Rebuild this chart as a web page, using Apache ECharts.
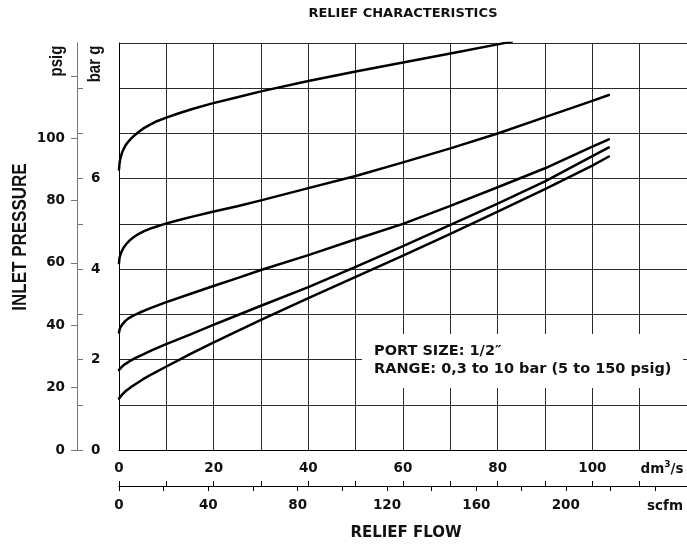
<!DOCTYPE html>
<html>
<head>
<meta charset="utf-8">
<script src="https://cdn.jsdelivr.net/npm/echarts@6/dist/echarts.min.js"></script>
<style>
html,body{margin:0;padding:0;background:#ffffff;}
#chart{width:687px;height:545px;}
</style>
</head>
<body>
<div id="chart"></div>
<script>
// ---- unit conversions ----
const PSI_PER_BAR = 14.5038;
const SCFM_PER_DM3S = 2.1189;

// ---- axis ticks / labels ----
const FLOW_TICKS = [0, 10, 20, 30, 40, 50, 60, 70, 80, 90, 100, 110];
const FLOW_LABELS = [0, 20, 40, 60, 80, 100];
const SCFM_TICKS = [0, 20, 40, 60, 80, 100, 120, 140, 160, 180, 200, 220, 240];
const SCFM_LABELS = [0, 40, 80, 120, 160, 200];
const PSIG_TICKS = [0, 20, 40, 60, 80, 100, 120];
const PSIG_LABELS = [0, 20, 40, 60, 80, 100];
const BAR_TICKS = [0, 1, 2, 3, 4, 5, 6, 7, 8];
const BAR_LABELS = [0, 2, 4, 6];

// ---- curves: [relief flow dm3/s, inlet pressure bar g] ----
const CURVE_1 = [[0,6.2],[0.1,6.33],[0.25,6.43],[0.45,6.51],[0.7,6.59],[1.0,6.66],[1.4,6.74],[1.9,6.81],[2.5,6.88],[3.2,6.95],[4,7.02],[5,7.1],[6.3,7.18],[8,7.27],[10,7.35],[12.5,7.44],[15.5,7.54],[19.5,7.66],[25,7.8],[30,7.93],[40,8.16],[50,8.37],[60,8.57],[70,8.77],[80,8.97],[83,9.03]];
const CURVE_2 = [[0,4.13],[0.1,4.24],[0.3,4.32],[0.6,4.4],[1.0,4.48],[1.5,4.55],[2.2,4.63],[3,4.7],[4,4.77],[5.3,4.84],[7,4.91],[9.7,5.0],[12.5,5.08],[15.5,5.16],[19.8,5.27],[25,5.39],[30,5.52],[40,5.79],[50,6.06],[60,6.36],[70,6.67],[80,7.0],[90,7.36],[100,7.72],[103.5,7.85]];
const CURVE_3 = [[0,2.6],[0.15,2.67],[0.4,2.73],[0.8,2.79],[1.3,2.85],[2,2.91],[3,2.97],[4.4,3.04],[6.5,3.13],[9.7,3.26],[15,3.45],[19.8,3.62],[25,3.8],[30,3.98],[40,4.31],[50,4.66],[60,5.0],[70,5.4],[80,5.81],[90,6.23],[100,6.71],[103.5,6.87]];
const CURVE_4 = [[0,1.77],[0.3,1.81],[0.7,1.85],[1.3,1.9],[2.2,1.96],[3.4,2.03],[5,2.11],[7,2.21],[9.7,2.33],[15,2.55],[19.8,2.76],[25,2.98],[30,3.19],[40,3.6],[50,4.05],[60,4.51],[70,4.98],[80,5.45],[90,5.94],[100,6.5],[103.5,6.69]];
const CURVE_5 = [[0,1.14],[0.3,1.18],[0.8,1.24],[1.5,1.31],[2.5,1.39],[3.7,1.47],[5,1.56],[7,1.68],[9.7,1.83],[12.5,1.98],[15,2.12],[19.8,2.37],[25,2.63],[30,2.88],[40,3.36],[50,3.83],[60,4.3],[70,4.78],[80,5.27],[90,5.77],[100,6.29],[103.5,6.49]];
const CURVES = [CURVE_1, CURVE_2, CURVE_3, CURVE_4, CURVE_5];

const TITLE = 'RELIEF CHARACTERISTICS';
const X_TITLE = 'RELIEF FLOW';
const Y_TITLE = 'INLET PRESSURE';
const NOTE_1 = 'PORT SIZE: 1/2\u2033';
const NOTE_2 = 'RANGE: 0,3 to 10 bar (5 to 150 psig)';

const FONT = '"DejaVu Sans", sans-serif';
const NFONT = '"Liberation Sans", Arial, sans-serif';
const labelStyle = {fontFamily: FONT, fontWeight: 'bold', fontSize: 13.5, color: '#111'};

const chart = echarts.init(document.getElementById('chart'), null, {renderer: 'canvas'});

const option = {
  backgroundColor: '#ffffff',
  animation: false,
  grid: {left: 119, right: 0, top: 43, bottom: 95, containLabel: false},
  xAxis: [
    {
      type: 'value', min: 0, max: 120, interval: 10, position: 'bottom', offset: 0,
      axisLine: {show: true, onZero: false, lineStyle: {color: '#000', width: 1}},
      axisTick: {show: false},
      splitLine: {show: true, lineStyle: {color: '#2a2a2a', width: 1}},
      axisLabel: Object.assign({customValues: FLOW_LABELS, margin: 11}, labelStyle)
    },
    {
      type: 'value', min: 0, max: 120, interval: 10, position: 'bottom', offset: 36,
      axisLine: {show: true, onZero: false, lineStyle: {color: '#000', width: 1}},
      axisTick: {show: true, inside: true, length: 5, customValues: FLOW_TICKS, lineStyle: {color: '#000'}},
      splitLine: {show: false},
      axisLabel: {show: false}
    },
    {
      type: 'value', min: 0, max: 120 * SCFM_PER_DM3S, position: 'bottom', offset: 36,
      axisLine: {show: false, onZero: false},
      axisTick: {show: true, inside: false, length: 5, customValues: SCFM_TICKS, lineStyle: {color: '#000'}},
      splitLine: {show: false},
      axisLabel: Object.assign({customValues: SCFM_LABELS, margin: 12}, labelStyle)
    }
  ],
  yAxis: [
    {
      type: 'value', min: 0, max: 9, interval: 1, position: 'left', offset: 0,
      axisLine: {show: true, onZero: false, lineStyle: {color: '#000', width: 1}},
      axisTick: {show: false},
      axisLabel: {show: false},
      splitLine: {show: true, lineStyle: {color: '#2a2a2a', width: 1}}
    },
    {
      type: 'value', min: 0, max: 9 * PSI_PER_BAR, position: 'left', offset: 42,
      axisLine: {show: true, onZero: false, lineStyle: {color: '#777', width: 1}},
      axisTick: {show: true, length: 6, customValues: PSIG_TICKS, lineStyle: {color: '#777'}},
      axisLabel: Object.assign({customValues: PSIG_LABELS, margin: 12}, labelStyle),
      splitLine: {show: false}
    },
    {
      type: 'value', min: 0, max: 9, interval: 1, position: 'left', offset: 42,
      axisLine: {show: true, onZero: false, lineStyle: {color: '#777', width: 1}},
      axisTick: {show: true, inside: true, length: 6, customValues: BAR_TICKS, lineStyle: {color: '#777'}},
      axisLabel: Object.assign({customValues: BAR_LABELS, inside: true, margin: 14}, labelStyle),
      splitLine: {show: false}
    }
  ],
  series: CURVES.map(function (c) {
    return {
      type: 'line', xAxisIndex: 0, yAxisIndex: 0, data: c,
      showSymbol: false, symbol: 'none', smooth: false,
      lineStyle: {color: '#000', width: 2.5, join: 'round', cap: 'round'}, z: 5, silent: true
    };
  }),
  graphic: [
    {type: 'rect', z: 10, shape: {x: 362, y: 334, width: 321, height: 54}, style: {fill: '#ffffff'}},
    {type: 'text', z: 11, x: 374, y: 351.5, style: {text: NOTE_1, font: 'bold 14.5px ' + FONT, fill: '#111', align: 'left', verticalAlign: 'middle'}},
    {type: 'text', z: 11, x: 374, y: 369, style: {text: NOTE_2, font: 'bold 14.5px ' + FONT, fill: '#111', align: 'left', verticalAlign: 'middle'}},
    {type: 'text', z: 11, x: 403, y: 14, style: {text: TITLE, font: 'bold 13px ' + FONT, fill: '#111', align: 'center', verticalAlign: 'middle'}},
    {type: 'text', z: 11, x: 406, y: 533, style: {text: X_TITLE, font: 'bold 15px ' + FONT, fill: '#111', align: 'center', verticalAlign: 'middle'}},
    {type: 'text', z: 11, x: 662, y: 469, style: {
      text: '{a|dm}{b|3}{a|/s}', align: 'center', verticalAlign: 'middle',
      rich: {
        a: {fontFamily: FONT, fontWeight: 'bold', fontSize: 13.5, fill: '#111', color: '#111'},
        b: {fontFamily: FONT, fontWeight: 'bold', fontSize: 9, fill: '#111', color: '#111', verticalAlign: 'top', padding: [0, 0, 8, 0]}
      }
    }},
    {type: 'text', z: 11, x: 665, y: 506, style: {text: 'scfm', font: 'bold 13.5px ' + FONT, fill: '#111', align: 'center', verticalAlign: 'middle'}},
    {type: 'text', z: 11, x: 20, y: 237, rotation: Math.PI / 2, scaleY: 1.2, style: {text: Y_TITLE, font: 'bold 17px ' + NFONT, fill: '#111', align: 'center', verticalAlign: 'middle'}},
    {type: 'text', z: 11, x: 57, y: 61, rotation: Math.PI / 2, scaleY: 1.2, style: {text: 'psig', font: 'bold 15px ' + NFONT, fill: '#111', align: 'center', verticalAlign: 'middle'}},
    {type: 'text', z: 11, x: 95.5, y: 64, rotation: Math.PI / 2, scaleY: 1.2, style: {text: 'bar g', font: 'bold 15px ' + NFONT, fill: '#111', align: 'center', verticalAlign: 'middle'}}
  ]
};

chart.setOption(option);
</script>
</body>
</html>
